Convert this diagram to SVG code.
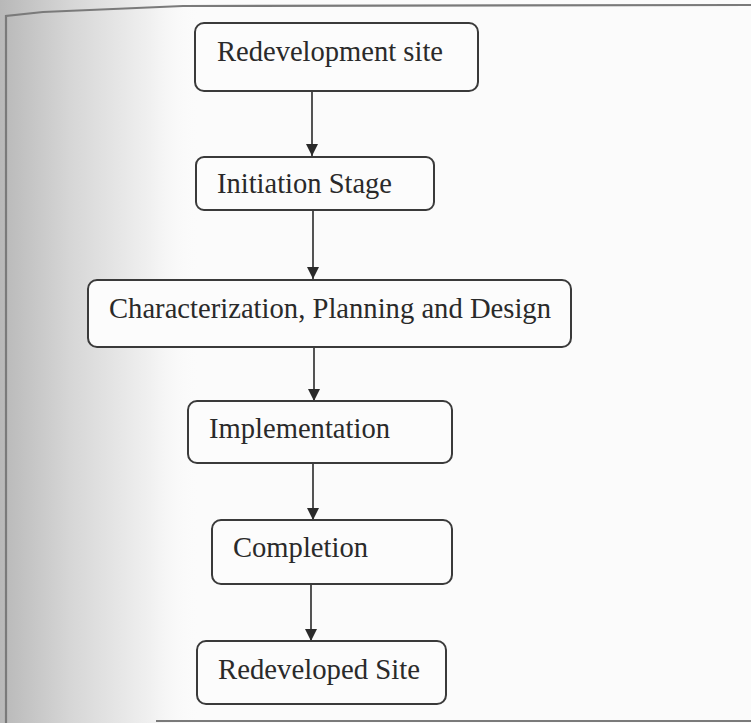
<svg xmlns="http://www.w3.org/2000/svg" width="751" height="723" viewBox="0 0 751 723">
<defs>
<linearGradient id="shade" x1="0" y1="0" x2="1" y2="0">
<stop offset="0" stop-color="#b8b8b8"/>
<stop offset="0.35" stop-color="#d6d6d6"/>
<stop offset="0.75" stop-color="#f0f0f0"/>
<stop offset="1" stop-color="#fbfbfb" stop-opacity="0"/>
</linearGradient>
<marker id="ah" viewBox="0 0 12 14" refX="12" refY="7" markerWidth="12" markerHeight="14" markerUnits="userSpaceOnUse" orient="auto">
<path d="M0,1 L12,7 L0,13 Z" fill="#2a2a2a"/>
</marker>
<style>
.box{fill:#fcfcfc;stroke:#3a3a3a;stroke-width:2}
.lbl{font-family:"Liberation Serif","Times New Roman",serif;font-size:30px;fill:#2a2a2a}
.edge{stroke:#2a2a2a;stroke-width:1.6;fill:none;marker-end:url(#ah)}
.frame{stroke:#7a7a7a;stroke-width:2.2;fill:none}
</style>
</defs>
<rect x="0" y="0" width="751" height="723" fill="#fbfbfb"/>
<rect x="0" y="0" width="200" height="723" fill="url(#shade)"/>
<path class="frame" d="M6,723 L6,16 L43,12 L183,6 L751,5"/>
<line class="frame" x1="156" y1="721" x2="751" y2="721"/>
<g id="connectors">
<line class="edge" x1="312" y1="91" x2="312" y2="156"/>
<line class="edge" x1="313" y1="210" x2="313" y2="279"/>
<line class="edge" x1="314" y1="346" x2="314" y2="401"/>
<line class="edge" x1="313" y1="463" x2="313" y2="520"/>
<line class="edge" x1="311" y1="584" x2="311" y2="641"/>
</g>
<g id="n1">
<rect class="box" x="195" y="23" width="283" height="68" rx="9"/>
<text class="lbl" x="217" y="61" textLength="226" lengthAdjust="spacingAndGlyphs">Redevelopment site</text>
</g>
<g id="n2">
<rect class="box" x="196" y="157" width="238" height="53" rx="8"/>
<text class="lbl" x="217" y="193" textLength="175" lengthAdjust="spacingAndGlyphs">Initiation Stage</text>
</g>
<g id="n3">
<rect class="box" x="88" y="280" width="483" height="67" rx="9"/>
<text class="lbl" x="109" y="318" textLength="442" lengthAdjust="spacingAndGlyphs">Characterization, Planning and Design</text>
</g>
<g id="n4">
<rect class="box" x="188" y="401" width="264" height="62" rx="9"/>
<text class="lbl" x="209" y="438" textLength="181" lengthAdjust="spacingAndGlyphs">Implementation</text>
</g>
<g id="n5">
<rect class="box" x="212" y="520" width="240" height="64" rx="9"/>
<text class="lbl" x="233" y="557" textLength="135" lengthAdjust="spacingAndGlyphs">Completion</text>
</g>
<g id="n6">
<rect class="box" x="197" y="641" width="249" height="63" rx="9"/>
<text class="lbl" x="218" y="679" textLength="202" lengthAdjust="spacingAndGlyphs">Redeveloped Site</text>
</g>
</svg>
